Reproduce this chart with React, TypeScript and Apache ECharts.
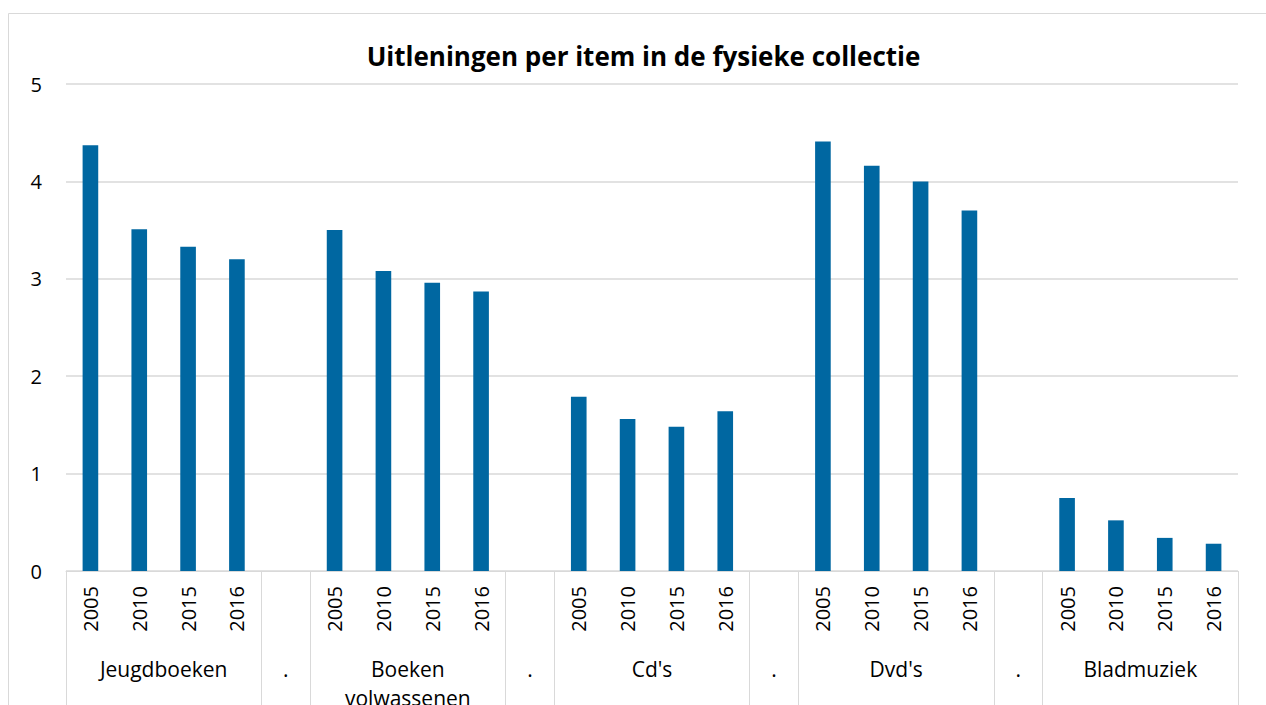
import React, { useEffect, useRef } from "react";
import * as echarts from "echarts";

const titleText = "Uitleningen per item in de fysieke collectie";
const groups = ["Jeugdboeken", "Boeken\nvolwassenen", "Cd's", "Dvd's", "Bladmuziek"];
const years = ["2005", "2010", "2015", "2016"];
const separatorLabel = ".";
const jeugdboeken = [4.37, 3.51, 3.33, 3.2];
const boekenVolwassenen = [3.5, 3.08, 2.96, 2.87];
const cds = [1.79, 1.56, 1.48, 1.64];
const dvds = [4.41, 4.16, 4.0, 3.7];
const bladmuziek = [0.75, 0.52, 0.34, 0.28];
const yTicks = [0, 1, 2, 3, 4, 5];

const groupValues = [jeugdboeken, boekenVolwassenen, cds, dvds, bladmuziek];

const FONT = "'Open Sans', 'Liberation Sans', sans-serif";

export default function App() {
  const ref = useRef<HTMLDivElement>(null);

  useEffect(() => {
    if (!ref.current) return;
    const chart = echarts.init(ref.current, null, { renderer: "svg" });

    // Build slots: 4 years per group, a separator slot between groups
    const slotLabels: string[] = [];
    const slotValues: (number | string)[] = [];
    const boundaryIdx: number[] = [];
    groups.forEach((g, gi) => {
      boundaryIdx.push(slotLabels.length);
      years.forEach((y, yi) => {
        slotLabels.push(y);
        slotValues.push(groupValues[gi][yi]);
      });
      if (gi < groups.length - 1) {
        boundaryIdx.push(slotLabels.length);
        slotLabels.push("");
        slotValues.push("-");
      }
    });
    const nSlots = slotLabels.length;

    // Second level labels on half-slot grid (boundaryGap false, 2*n+1 points)
    const halfLabels: string[] = new Array(nSlots * 2 + 1).fill("");
    let s = 0;
    groups.forEach((g, gi) => {
      halfLabels[s * 2 + years.length] = g;
      s += years.length;
      if (gi < groups.length - 1) {
        halfLabels[s * 2 + 1] = separatorLabel;
        s += 1;
      }
    });

    chart.setOption({
      animation: false,
      graphic: [
        {
          type: "rect",
          shape: { x: 8.5, y: 13.5, width: 1300, height: 760 },
          style: { fill: "none", stroke: "#d9d9d9", lineWidth: 1 },
          silent: true,
          z: -10,
        },
        {
          type: "text",
          x: 643.5,
          y: 56,
          style: {
            text: titleText,
            font: `bold 26px ${FONT}`,
            fill: "#000",
            textAlign: "center",
            textVerticalAlign: "middle",
          },
        },
      ],
      grid: {
        left: 66,
        right: 28,
        top: 84,
        bottom: 134,
        outerBoundsMode: "none",
        containLabel: false,
      },
      xAxis: [
        {
          type: "category",
          data: slotLabels,
          position: "bottom",
          axisLine: { show: true, lineStyle: { color: "#d9d9d9", width: 1 } },
          axisTick: {
            show: true,
            length: 150,
            interval: (index: number) => boundaryIdx.includes(index),
            lineStyle: { color: "#d9d9d9", width: 1 },
          },
          axisLabel: {
            interval: 0,
            rotate: 90,
            margin: 15,
            fontSize: 20,
            fontFamily: FONT,
            color: "#000",
          },
          splitLine: { show: false },
        },
        {
          type: "category",
          data: halfLabels,
          boundaryGap: false,
          position: "bottom",
          offset: 83,
          axisLine: { show: false },
          axisTick: { show: false },
          axisLabel: {
            interval: 0,
            margin: 0,
            fontSize: 21,
            lineHeight: 29,
            fontFamily: FONT,
            color: "#000",
          },
          splitLine: { show: false },
        },
      ],
      yAxis: {
        type: "value",
        min: yTicks[0],
        max: yTicks[yTicks.length - 1],
        interval: 1,
        axisLine: { show: false },
        axisTick: { show: false },
        axisLabel: {
          margin: 24,
          fontSize: 20,
          fontFamily: FONT,
          color: "#000",
        },
        splitLine: { show: true, lineStyle: { color: "#d9d9d9", width: 1.5 } },
      },
      series: [
        {
          type: "bar",
          xAxisIndex: 0,
          data: slotValues,
          barWidth: "32%",
          itemStyle: { color: "#0067a1" },
        },
      ],
    });

    return () => chart.dispose();
  }, []);

  return (
    <div
      ref={ref}
      style={{ position: "fixed", left: 0, top: 0, width: 1266, height: 705, background: "#fff" }}
    />
  );
}
